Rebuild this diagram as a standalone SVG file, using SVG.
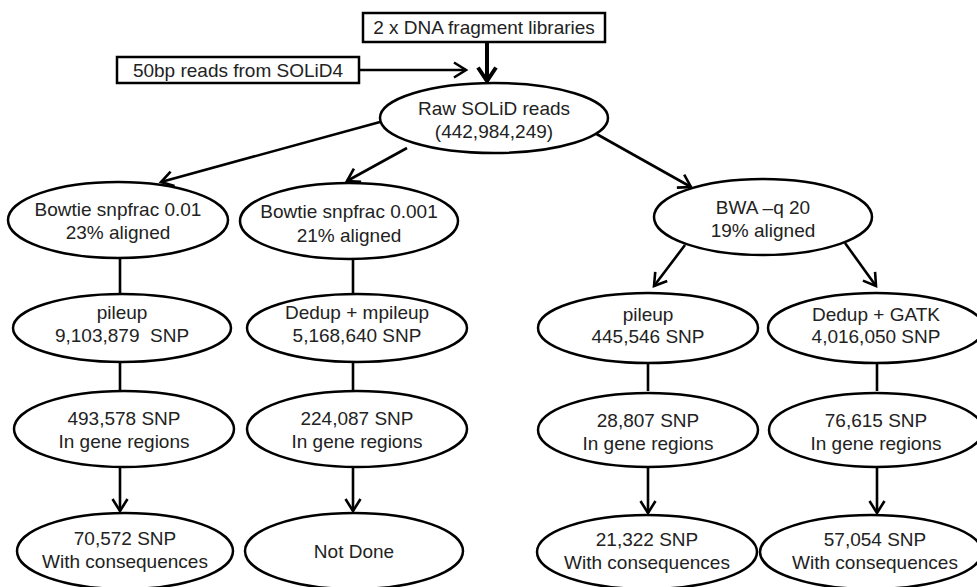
<svg xmlns="http://www.w3.org/2000/svg" width="977" height="587" viewBox="0 0 977 587">
  <style>
    .node ellipse, .node rect { fill: #fff; stroke: #000; stroke-width: 2.5; }
    .node text { font-family: "Liberation Sans", Arial, sans-serif; font-size: 19px; fill: #222; text-anchor: middle; }
    .edge { fill: none; stroke: #000; stroke-width: 2.6; }
    .thick { fill: none; stroke: #000; stroke-width: 4; }
  </style>
  <defs>
    <marker id="arrow" markerUnits="userSpaceOnUse" markerWidth="16" markerHeight="18" viewBox="0 0 16 18" refX="13" refY="9" orient="auto">
      <path d="M1,1.5 L13,9 L1,16.5" fill="none" stroke="#000" stroke-width="2.6"/>
    </marker>
    <marker id="arrowBig" markerUnits="userSpaceOnUse" markerWidth="18" markerHeight="22" viewBox="0 0 18 22" refX="15" refY="11" orient="auto">
      <path d="M1.5,2 L15,11 L1.5,20" fill="none" stroke="#000" stroke-width="4"/>
    </marker>
  </defs>

  <!-- connectors -->
  <g id="connectors">
    <line class="edge" x1="359" y1="70" x2="466" y2="70" marker-end="url(#arrow)"/>
    <line class="thick" x1="487" y1="42" x2="487" y2="81" marker-end="url(#arrowBig)"/>
    <line class="edge" x1="380" y1="122" x2="161" y2="182" marker-end="url(#arrow)"/>
    <line class="edge" x1="407" y1="148" x2="347" y2="181" marker-end="url(#arrow)"/>
    <line class="edge" x1="593" y1="132" x2="691" y2="187" marker-end="url(#arrow)"/>
    <line class="edge" x1="120" y1="258" x2="120" y2="294"/>
    <line class="edge" x1="353" y1="259" x2="353" y2="294"/>
    <line class="edge" x1="685" y1="245" x2="654" y2="286" marker-end="url(#arrow)"/>
    <line class="edge" x1="845" y1="243" x2="876" y2="286" marker-end="url(#arrow)"/>
    <line class="edge" x1="120" y1="361" x2="120" y2="391"/>
    <line class="edge" x1="353" y1="361" x2="353" y2="391"/>
    <line class="edge" x1="648" y1="361" x2="648" y2="391"/>
    <line class="edge" x1="877" y1="361" x2="877" y2="391"/>
    <line class="edge" x1="120" y1="466" x2="120" y2="511" marker-end="url(#arrow)"/>
    <line class="edge" x1="353" y1="466" x2="353" y2="511" marker-end="url(#arrow)"/>
    <line class="edge" x1="648" y1="466" x2="648" y2="513" marker-end="url(#arrow)"/>
    <line class="edge" x1="877" y1="466" x2="877" y2="513" marker-end="url(#arrow)"/>
  </g>

  <g id="libraries" class="node">
    <rect x="363" y="13" width="242" height="29"/>
    <text x="484" y="34">2 x DNA fragment libraries</text>
  </g>
  <g id="solid4" class="node">
    <rect x="117" y="57" width="242" height="26"/>
    <text x="238" y="77">50bp reads from SOLiD4</text>
  </g>
  <g id="raw" class="node">
    <ellipse cx="494" cy="118" rx="114" ry="35"/>
    <text x="494" y="115">Raw SOLiD reads</text>
    <text x="494" y="138">(442,984,249)</text>
  </g>

  <g id="bowtie1" class="node">
    <ellipse cx="118" cy="220" rx="110" ry="38"/>
    <text x="118" y="216">Bowtie snpfrac 0.01</text>
    <text x="118" y="239">23% aligned</text>
  </g>
  <g id="bowtie2" class="node">
    <ellipse cx="349" cy="221" rx="109" ry="38"/>
    <text x="349" y="218">Bowtie snpfrac 0.001</text>
    <text x="349" y="242">21% aligned</text>
  </g>
  <g id="bwa" class="node">
    <ellipse cx="763" cy="217" rx="109" ry="38"/>
    <text x="763" y="214">BWA –q 20</text>
    <text x="763" y="237">19% aligned</text>
  </g>

  <g id="pileup1" class="node">
    <ellipse cx="122" cy="328" rx="109" ry="34"/>
    <text x="122" y="319">pileup</text>
    <text x="122" y="342">9,103,879 &#160;SNP</text>
  </g>
  <g id="mpileup" class="node">
    <ellipse cx="357" cy="328" rx="110" ry="34"/>
    <text x="357" y="319">Dedup + mpileup</text>
    <text x="357" y="342">5,168,640 SNP</text>
  </g>
  <g id="pileup2" class="node">
    <ellipse cx="648" cy="328" rx="110" ry="35"/>
    <text x="648" y="321">pileup</text>
    <text x="648" y="343">445,546 SNP</text>
  </g>
  <g id="gatk" class="node">
    <ellipse cx="876" cy="328" rx="108" ry="35"/>
    <text x="876" y="321">Dedup + GATK</text>
    <text x="876" y="343">4,016,050 SNP</text>
  </g>

  <g id="genes1" class="node">
    <ellipse cx="124" cy="429" rx="110" ry="38"/>
    <text x="124" y="425">493,578 SNP</text>
    <text x="124" y="448">In gene regions</text>
  </g>
  <g id="genes2" class="node">
    <ellipse cx="357" cy="429" rx="110" ry="38"/>
    <text x="357" y="425">224,087 SNP</text>
    <text x="357" y="448">In gene regions</text>
  </g>
  <g id="genes3" class="node">
    <ellipse cx="648" cy="430" rx="110" ry="37"/>
    <text x="648" y="427">28,807 SNP</text>
    <text x="648" y="450">In gene regions</text>
  </g>
  <g id="genes4" class="node">
    <ellipse cx="876" cy="430" rx="107" ry="37"/>
    <text x="876" y="427">76,615 SNP</text>
    <text x="876" y="450">In gene regions</text>
  </g>

  <g id="conseq1" class="node">
    <ellipse cx="125" cy="551" rx="108" ry="38"/>
    <text x="125" y="545">70,572 SNP</text>
    <text x="125" y="568">With consequences</text>
  </g>
  <g id="notdone" class="node">
    <ellipse cx="354" cy="551" rx="109" ry="38"/>
    <text x="354" y="558">Not Done</text>
  </g>
  <g id="conseq3" class="node">
    <ellipse cx="647" cy="552" rx="110" ry="37"/>
    <text x="647" y="546">21,322 SNP</text>
    <text x="647" y="569">With consequences</text>
  </g>
  <g id="conseq4" class="node">
    <ellipse cx="871" cy="552" rx="111" ry="37"/>
    <text x="875" y="546">57,054 SNP</text>
    <text x="875" y="569">With consequences</text>
  </g>
</svg>
